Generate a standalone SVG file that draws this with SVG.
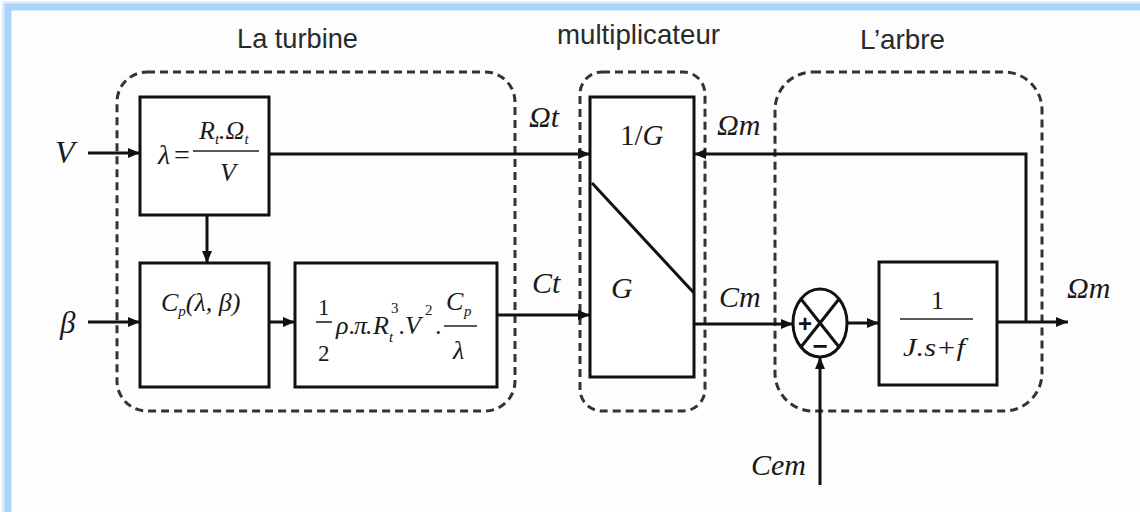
<svg xmlns="http://www.w3.org/2000/svg" width="1140" height="512" viewBox="0 0 1140 512">
<style>
.dash{fill:none;stroke:#333;stroke-width:3;stroke-dasharray:8 5}
.blk{fill:#fff;stroke:#111;stroke-width:3}
.ln{fill:none;stroke:#111;stroke-width:3}
.bar{fill:none;stroke:#222;stroke-width:1.6}
.arr{marker-end:url(#ah)}
.title{font-family:"Liberation Sans",Arial,sans-serif;font-size:28px;fill:#2a2a2a}
.m{font-family:"Liberation Serif","Times New Roman",serif;font-style:italic;fill:#1a1a1a}
.r{font-family:"Liberation Serif","Times New Roman",serif;font-style:normal;fill:#1a1a1a}
.lbl{font-size:30px}
.f{font-size:26px}
.s{font-size:15px}
</style>
<defs>
<marker id="ah" markerUnits="userSpaceOnUse" markerWidth="13" markerHeight="11" refX="12" refY="5" orient="auto">
<path d="M0,0 L12,5 L0,10 z" fill="#111"/>
</marker>
</defs>
<rect x="0" y="0" width="1140" height="512" fill="#fff"/>
<rect x="8" y="7" width="1200" height="600" fill="none" stroke="#dcedfd" stroke-width="12"/>
<rect x="8" y="7" width="1200" height="600" fill="#fdfdfd" stroke="#a9d5fb" stroke-width="7"/>

<g id="titles">
<text class="title" x="237" y="48" textLength="121" lengthAdjust="spacingAndGlyphs">La turbine</text>
<text class="title" x="557" y="44" textLength="163" lengthAdjust="spacingAndGlyphs">multiplicateur</text>
<text class="title" x="860" y="49" textLength="85" lengthAdjust="spacingAndGlyphs">L’arbre</text>
</g>

<g id="groups">
<rect id="turbine" class="dash" x="117" y="72" width="398" height="339" rx="30"/>
<rect id="multiplicateur" class="dash" x="580" y="72" width="125" height="339" rx="22"/>
<rect id="arbre" class="dash" x="775" y="72" width="267" height="339" rx="38"/>
</g>

<g id="connectors">
<path class="ln arr" d="M88,153 H140"/>
<path class="ln arr" d="M88,322 H140"/>
<path class="ln arr" d="M207,215 V263"/>
<path class="ln arr" d="M269,322 H295"/>
<path class="ln arr" d="M269,154 H590"/>
<path class="ln arr" d="M497,315 H590"/>
<path class="ln arr" d="M1026,322 V154 H694"/>
<path class="ln arr" d="M694,324 H793"/>
<path class="ln arr" d="M847,323 H879"/>
<path class="ln arr" d="M997,322 H1068"/>
<path class="ln arr" d="M820,485 V357"/>
</g>

<g id="lambda">
<rect class="blk" x="140" y="97" width="129" height="118"/>
<text class="m" font-size="28" x="158" y="164">λ</text>
<text class="r" font-size="28" x="174" y="164">=</text>
<text class="m f" x="199" y="139">R<tspan class="s" dy="5">t</tspan><tspan dy="-5">.Ω</tspan><tspan class="s" dy="5">t</tspan></text>
<line class="bar" x1="193" y1="151" x2="259" y2="151"/>
<text class="m f" x="220" y="181">V</text>
</g>

<g id="cp">
<rect class="blk" x="140" y="263" width="129" height="124"/>
<text class="m f" x="161" y="311">C<tspan class="s" dy="5">p</tspan><tspan dy="-5">(λ, β)</tspan></text>
</g>

<g id="torque">
<rect class="blk" x="295" y="263" width="202" height="124"/>
<text class="r" font-size="23" x="318" y="315">1</text>
<line class="bar" x1="316" y1="322" x2="332" y2="322"/>
<text class="r" font-size="23" x="318" y="361">2</text>
<text class="m f" x="336" y="334">ρ</text>
<text class="m f" x="349" y="334">.</text>
<text class="m f" x="354" y="334">π</text>
<text class="m f" x="366" y="334">.</text>
<text class="m f" x="373" y="334">R</text>
<text class="m s" x="389" y="342">t</text>
<text class="r s" x="391" y="313">3</text>
<text class="m f" x="399" y="334">.</text>
<text class="m f" x="405" y="334">V</text>
<text class="r s" x="425" y="315">2</text>
<text class="r f" x="435" y="334">.</text>
<text class="m f" x="446" y="310">C</text>
<text class="m s" x="464" y="316">p</text>
<line class="bar" x1="444" y1="326" x2="477" y2="326"/>
<text class="m f" x="453" y="359">λ</text>
</g>

<g id="gear">
<rect class="blk" x="590" y="97" width="104" height="280"/>
<line class="ln" x1="592" y1="183" x2="694" y2="293"/>
<text class="r" font-size="29" x="620" y="145">1/<tspan class="m">G</tspan></text>
<text class="m lbl" x="611" y="298">G</text>
</g>

<g id="sum">
<ellipse cx="820" cy="323" rx="27" ry="34" fill="#fff" stroke="#111" stroke-width="3"/>
<line class="ln" x1="801" y1="299" x2="839" y2="347"/>
<line class="ln" x1="839" y1="299" x2="801" y2="347"/>
<text x="805" y="332" text-anchor="middle" font-family="Liberation Sans,Arial,sans-serif" font-size="24" font-weight="bold" fill="#111">+</text>
<text x="820" y="355" text-anchor="middle" font-family="Liberation Sans,Arial,sans-serif" font-size="26" font-weight="bold" fill="#111">−</text>
</g>

<g id="inertia">
<rect class="blk" x="879" y="262" width="118" height="123"/>
<text class="r f" x="931" y="309">1</text>
<line class="bar" x1="900" y1="319" x2="973" y2="319"/>
<text class="m f" x="903" y="356" textLength="62" lengthAdjust="spacingAndGlyphs">J.s+f</text>
</g>

<g id="labels">
<text class="m" font-size="32" x="55" y="163">V</text>
<text class="m" font-size="31" x="60" y="333">β</text>
<text class="m lbl" x="529" y="127">Ωt</text>
<text class="m lbl" x="717" y="135">Ωm</text>
<text class="m lbl" x="532" y="293">Ct</text>
<text class="m lbl" x="719" y="307">Cm</text>
<text class="m lbl" x="1067" y="298">Ωm</text>
<text class="m lbl" x="751" y="475">Cem</text>
</g>
</svg>
